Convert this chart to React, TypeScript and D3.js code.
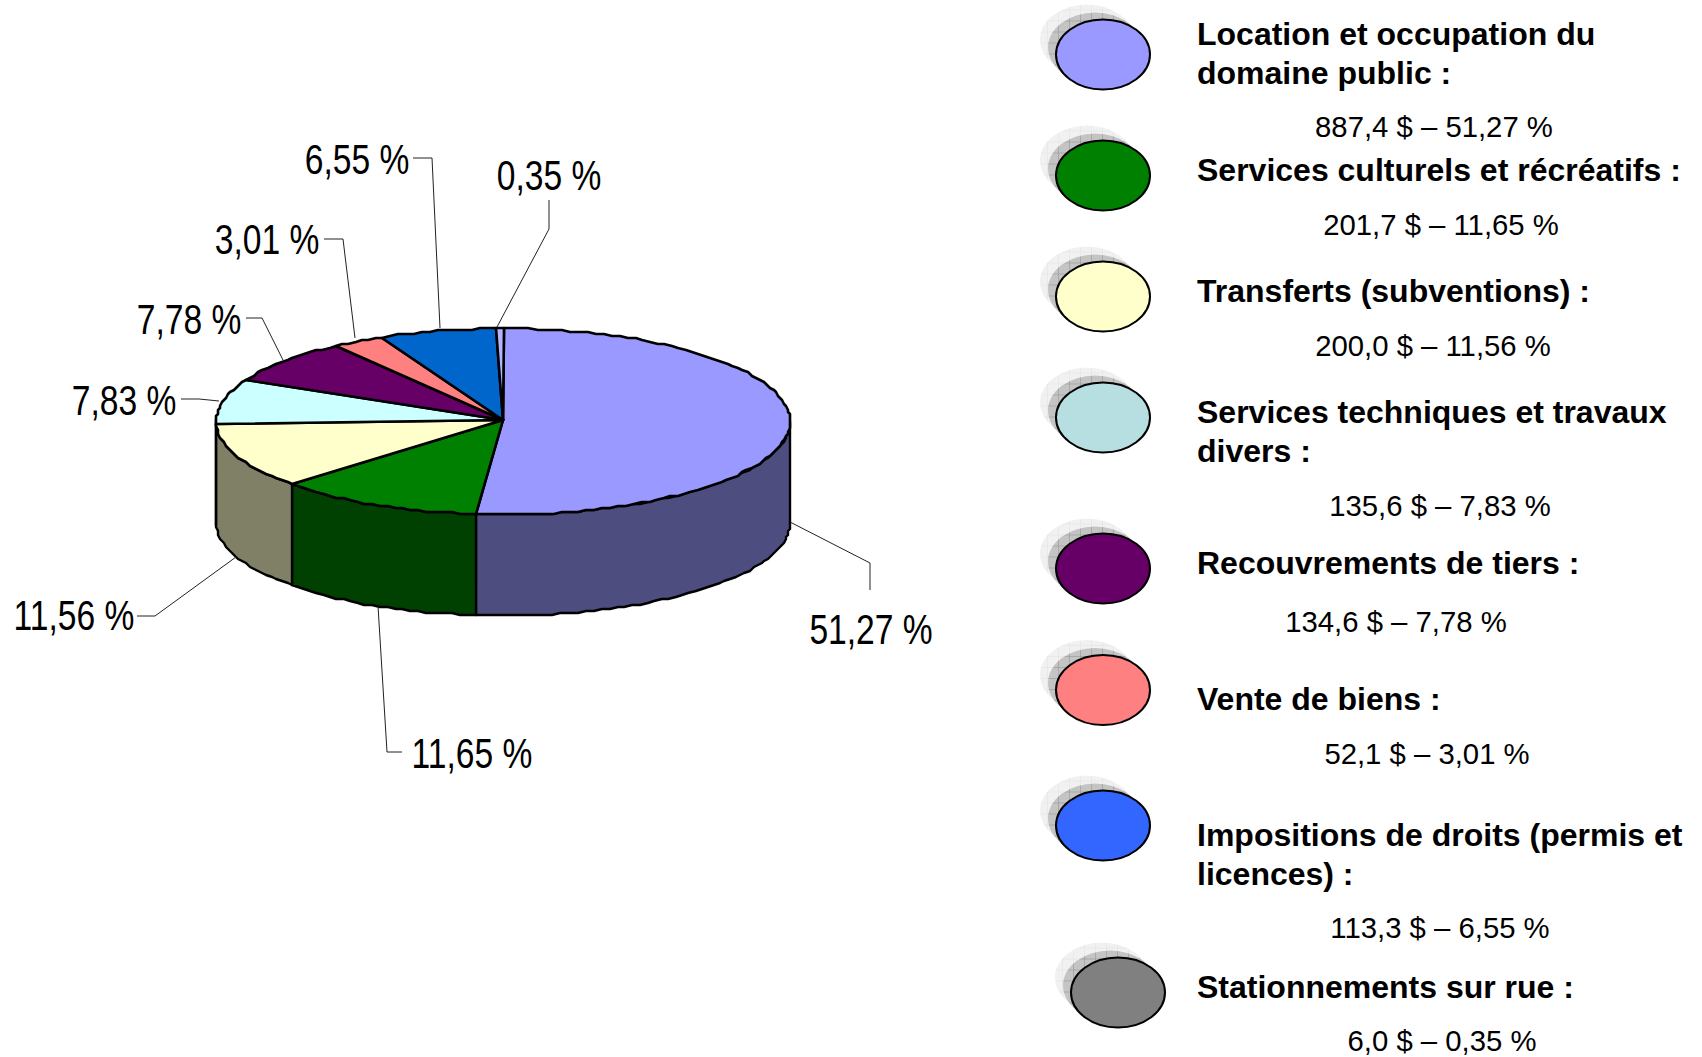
import React from "react";
import * as d3 from "d3";

const shares = [51.27, 11.65, 11.56, 7.83, 7.78, 3.01, 6.55, 0.35];
const pieLabels = ["51,27 %", "11,65 %", "11,56 %", "7,83 %", "7,78 %", "3,01 %", "6,55 %", "0,35 %"];
const topColors = ["#9999FF", "#008000", "#FFFFCC", "#CCFFFF", "#660066", "#FF8080", "#0066CC", "#B3B3FF"];
const sideColors = ["#4D4D80", "#004000", "#808066", "#668080", "#330033", "#804040", "#003366", "#606080"];
const legendColors = ["#9999FF", "#008000", "#FFFFCC", "#B7DEE1", "#660066", "#FF8080", "#3366FF", "#808080"];
const legendTitles = [
  ["Location et occupation du", "domaine public :"],
  ["Services culturels et récréatifs :"],
  ["Transferts (subventions) :"],
  ["Services techniques et travaux", "divers :"],
  ["Recouvrements de tiers :"],
  ["Vente de biens :"],
  ["Impositions de droits (permis et", "licences) :"],
  ["Stationnements sur rue :"],
];
const legendAmounts = [
  "887,4 $ – 51,27 %", "201,7 $ – 11,65 %", "200,0 $ – 11,56 %", "135,6 $ – 7,83 %",
  "134,6 $ – 7,78 %", "52,1 $ – 3,01 %", "113,3 $ – 6,55 %", "6,0 $ – 0,35 %",
];
const titleY = [[34, 73], [170], [291], [412, 451], [563], [699], [835, 874], [987]];
const amountY = [126, 224, 345, 505, 621, 753, 927, 1040];
const amountX = [1434, 1441, 1433, 1440, 1396, 1427, 1440, 1442];
const bulletY = [54.5, 175.5, 296.5, 417.5, 568.5, 690, 825.5, 992.5];
const bulletX = [1103, 1103, 1103, 1103, 1103, 1103, 1103, 1118];

// leader lines and where the percentage text sits
const leaders = [
  [[790, 522], [870, 563], [870, 590]],
  [[378, 606], [387, 752], [402, 752]],
  [[236, 557], [155, 616], [137, 616]],
  [[219, 401], [199, 399], [181, 399]],
  [[283, 360], [262, 318], [246, 318]],
  [[355, 338], [343, 239], [324, 239]],
  [[440, 328], [432, 158], [413, 158]],
  [[497, 327], [549, 229], [549, 200]],
];
const labelPos = [[871, 644], [472, 768], [74, 630], [124, 415], [189, 334], [267, 254], [357, 174], [549, 190]];

const cx = 503;
const cy = 421.5;
const hubY = 420;
const rx = 287;
const ry = 93;
const depth = 101;

// front slices in the reference sit a little further round than the back ones
const warp = (a: number) => a + (0.013 * (1 - Math.cos(a))) / 2;
const px = (a: number) => cx + rx * Math.sin(warp(a));
const py = (a: number) => cy - ry * Math.cos(warp(a));

// the rim is stepped in the reference, so snap it to a coarse grid
const snap = (v: number) => Math.round(v / 2) * 2;
const rimPoints = (a0: number, a1: number, dy = 0): [number, number][] => {
  const n = Math.max(1, Math.ceil((a1 - a0) / 0.03));
  return d3.range(n + 1).map((k) => {
    const a = a0 + ((a1 - a0) * k) / n;
    return [snap(px(a)), snap(py(a)) + dy];
  });
};

export default function App() {
  const arcs = d3.pie<number>().sort(null)(shares);
  const line = d3.line();

  return (
    <svg width={1702} height={1057} style={{ position: "absolute", left: 0, top: 0 }} fontFamily="'Liberation Sans', Arial, sans-serif">
      <defs>
        <pattern id="grid" width="11" height="11" patternUnits="userSpaceOnUse">
          <rect width="11" height="11" fill="#c4c4c4" />
          <path d="M11,0V11M0,11H11" stroke="#8f8f8f" strokeWidth="1" fill="none" />
        </pattern>
        <pattern id="gridLight" width="11" height="11" patternUnits="userSpaceOnUse">
          <rect width="11" height="11" fill="#f1f1f1" />
          <path d="M11,0V11M0,11H11" stroke="#e2e2e2" strokeWidth="1" fill="none" />
        </pattern>
      </defs>

      {/* walls, only the front half shows */}
      {arcs.map((d, i) => {
        const a0 = Math.max(d.startAngle, Math.PI / 2);
        const a1 = Math.min(d.endAngle, (3 * Math.PI) / 2);
        if (a1 <= a0) return null;
        const pts = [...rimPoints(a0, a1), ...rimPoints(a0, a1, depth).reverse()];
        return <path key={i} d={`${line(pts)}Z`} fill={sideColors[i]} stroke="#000" strokeWidth={2.4} strokeLinejoin="round" />;
      })}

      {/* top face */}
      {arcs.map((d, i) => (
        <path
          key={i}
          d={`${line([[cx, hubY], ...rimPoints(d.startAngle, d.endAngle)])}Z`}
          fill={topColors[i]}
          stroke="#000"
          strokeWidth={2.6}
          strokeLinejoin="round"
        />
      ))}

      {leaders.map((pts, i) => (
        <path key={i} d={line(pts as [number, number][]) || ""} fill="none" stroke="#222" strokeWidth={1} />
      ))}
      {pieLabels.map((t, i) => (
        <text
          key={i}
          textAnchor="middle"
          fontSize={42}
          transform={`translate(${labelPos[i][0]},${labelPos[i][1]}) scale(0.8,1)`}
        >
          {t}
        </text>
      ))}

      {legendColors.map((c, i) => (
        <g key={i} transform={`translate(${bulletX[i]},${bulletY[i]})`}>
          <ellipse cx={-16} cy={-15} rx={47} ry={35} fill="url(#gridLight)" />
          <ellipse cx={-8} cy={-7} rx={47} ry={35} fill="url(#grid)" />
          <ellipse cx={0} cy={0} rx={47} ry={35} fill={c} stroke="#000" strokeWidth={2} />
        </g>
      ))}

      {legendTitles.map((lines, i) =>
        lines.map((t, j) => (
          <text key={`${i}-${j}`} x={1197} y={titleY[i][j] + 11} fontSize={32} fontWeight="bold">
            {t}
          </text>
        ))
      )}
      {legendAmounts.map((t, i) => (
        <text key={i} x={amountX[i]} y={amountY[i] + 11} fontSize={29.3} textAnchor="middle">
          {t}
        </text>
      ))}
    </svg>
  );
}
